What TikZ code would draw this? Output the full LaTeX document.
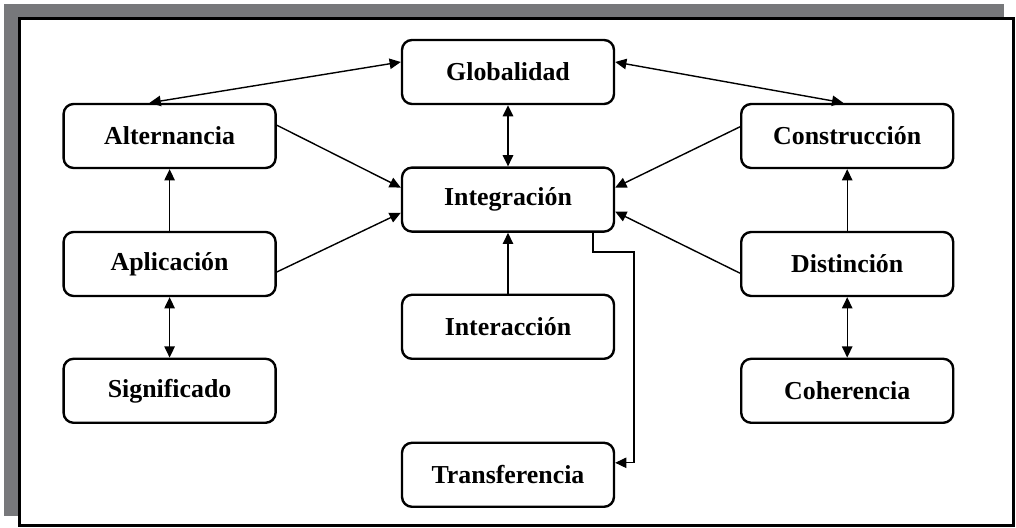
\documentclass[tikz,border=0pt]{standalone}
\usepackage{fontspec}
\setmainfont{Liberation Serif}
\usepackage{xcolor}
\usepackage{tikz}
\usetikzlibrary{arrows.meta,positioning,calc}

\definecolor{shadowgray}{RGB}{119,120,123}

\begin{document}
\begin{tikzpicture}[
    box/.style={draw, line width=1.7pt, rounded corners=0.25cm, minimum width=5.3cm,
                minimum height=1.6cm, inner sep=0pt, font=\bfseries\fontsize{18.4}{20}\selectfont},
    link/.style={line width=1pt, -{Triangle[length=2.8mm,width=2.6mm]}},
    twoway/.style={line width=1pt, {Triangle[length=2.8mm,width=2.6mm]}-{Triangle[length=2.8mm,width=2.6mm]}}
  ]
        \useasboundingbox (0,0) rectangle (25.4,13.2);

        % Frame with shadow
        \fill[shadowgray] (0.1,0.3) rectangle (25.1,13.1);
        \filldraw[fill=white, draw=black, line width=2pt] (0.48,0.07) rectangle (25.33,12.73);

        % Middle column
        \node[box] (glob) at (12.7,11.4) {Globalidad};
        \node[box] (integ) at (12.7,8.21) {Integración};
        \node[box] (inter) at (12.7,5.03) {Interacción};
        \node[box] (transf) at (12.7,1.33) {Transferencia};

        % Left column
        \node[box] (alt) at (4.24,9.8) {Alternancia};
        \node[box] (apl) at (4.24,6.6) {Aplicación};
        \node[box] (sig) at (4.24,3.43) {Significado};

        % Right column
        \node[box] (cons) at (21.18,9.8) {Construcción};
        \node[box] (dist) at (21.18,6.6) {Distinción};
        \node[box] (coh) at (21.18,3.43) {Coherencia};

        % Links to Globalidad
        \draw[twoway] ([yshift=0.25cm]glob.west) -- ([xshift=-0.5cm]alt.north);
        \draw[twoway] ([yshift=0.25cm]glob.east) -- ([xshift=-0.1cm]cons.north);
        \draw[twoway, line width=1.4pt] (glob.south) -- (integ.north);

        % Links into Integración
        \draw[link] ([yshift=0.27cm]alt.east) -- ([yshift=0.3cm]integ.west);
        \draw[link] ([yshift=-0.2cm]apl.east) -- ([yshift=-0.33cm]integ.west);
        \draw[link] ([yshift=0.23cm]cons.west) -- ([yshift=0.3cm]integ.east);
        \draw[link] ([yshift=-0.23cm]dist.west) -- ([yshift=-0.3cm]integ.east);
        \draw[link] (inter) -- (integ);

        % Left and right chains
        \draw[link] (apl) -- (alt);
        \draw[twoway] (apl) -- (sig);
        \draw[link] (dist) -- (cons);
        \draw[twoway] (dist) -- (coh);

        % Integración to Transferencia
        \coordinate (bend) at (15.85,6.9);
        \draw[link, line width=0.8pt] ([xshift=2.125cm]integ.south) |- (bend) |- ([yshift=0.3cm]transf.east);
      \end{tikzpicture}
\end{document}
